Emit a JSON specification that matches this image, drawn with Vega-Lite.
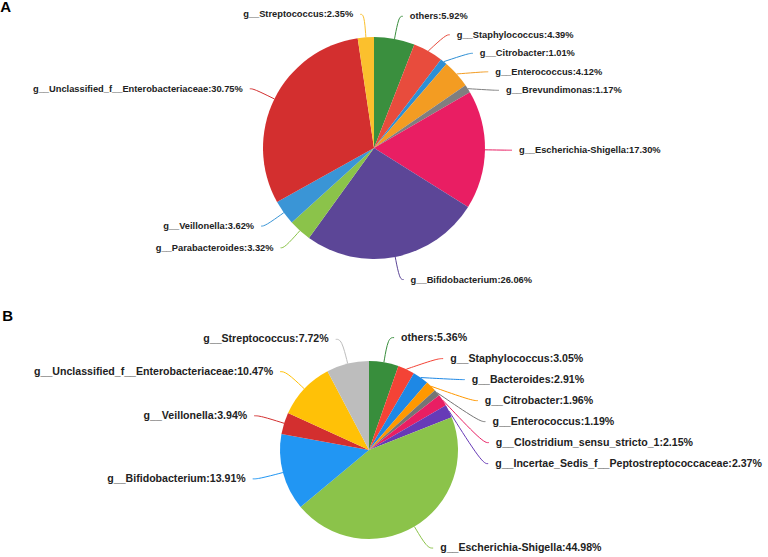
{
  "$schema": "https://vega.github.io/schema/vega-lite/v6.json",
  "padding": 0,
  "background": "white",
  "bounds": "flush",
  "spacing": 9,
  "config": {"view": {"stroke": null}, "font": "Liberation Sans"},
  "resolve": {"scale": {"color": "independent", "x": "independent", "y": "independent", "theta": "independent"}},
  "datasets": {
    "pieA": [
      {"order": 1, "name": "others", "pct": 5.92},
      {"order": 2, "name": "g__Staphylococcus", "pct": 4.39},
      {"order": 3, "name": "g__Citrobacter", "pct": 1.01},
      {"order": 4, "name": "g__Enterococcus", "pct": 4.12},
      {"order": 5, "name": "g__Brevundimonas", "pct": 1.17},
      {"order": 6, "name": "g__Escherichia-Shigella", "pct": 17.30},
      {"order": 7, "name": "g__Bifidobacterium", "pct": 26.06},
      {"order": 8, "name": "g__Parabacteroides", "pct": 3.32},
      {"order": 9, "name": "g__Veillonella", "pct": 3.62},
      {"order": 10, "name": "g__Unclassified_f__Enterobacteriaceae", "pct": 30.75},
      {"order": 11, "name": "g__Streptococcus", "pct": 2.35}
    ],
    "pieB": [
      {"order": 1, "name": "others", "pct": 5.36},
      {"order": 2, "name": "g__Staphylococcus", "pct": 3.05},
      {"order": 3, "name": "g__Bacteroides", "pct": 2.91},
      {"order": 4, "name": "g__Citrobacter", "pct": 1.96},
      {"order": 5, "name": "g__Enterococcus", "pct": 1.19},
      {"order": 6, "name": "g__Clostridium_sensu_stricto_1", "pct": 2.15},
      {"order": 7, "name": "g__Incertae_Sedis_f__Peptostreptococcaceae", "pct": 2.37},
      {"order": 8, "name": "g__Escherichia-Shigella", "pct": 44.98},
      {"order": 9, "name": "g__Bifidobacterium", "pct": 13.91},
      {"order": 10, "name": "g__Veillonella", "pct": 3.94},
      {"order": 11, "name": "g__Unclassified_f__Enterobacteriaceae", "pct": 10.47},
      {"order": 12, "name": "g__Streptococcus", "pct": 7.72}
    ]
  },
  "vconcat": [
    {
      "width": 768,
      "height": 300,
      "title": {"text": "A", "orient": "left", "anchor": "end", "frame": "group", "angle": 0, "align": "left", "baseline": "top", "offset": -3, "fontSize": 15, "fontWeight": "bold", "font": "Liberation Sans", "color": "#000"},
      "data": {"name": "pieA"},
      "transform": [
        {"window": [{"op": "sum", "field": "pct", "as": "cum"}], "sort": [{"field": "order"}], "frame": [null, 0]},
        {"calculate": "(datum.cum - datum.pct / 2) / 100 * 2 * PI", "as": "mid"},
        {"calculate": "111 * sin(datum.mid)", "as": "ex"},
        {"calculate": "-111 * cos(datum.mid)", "as": "ey"},
        {"calculate": "134 * sin(datum.mid)", "as": "ax"},
        {"calculate": "-134 * cos(datum.mid)", "as": "ay"},
        {"calculate": "datum.ax >= 0 ? 'right' : 'left'", "as": "side"},
        {"window": [{"op": "row_number", "as": "k"}], "groupby": ["side"], "sort": [{"field": "ay"}]},
        {"calculate": "datum.ay - datum.k * 18.5", "as": "z"},
        {"window": [{"op": "max", "field": "z", "as": "zmax"}], "groupby": ["side"], "sort": [{"field": "ay"}], "frame": [null, 0]},
        {"calculate": "datum.zmax + datum.k * 18.5", "as": "ly"},
        {"calculate": "(datum.side == 'right' ? 1 : -1) * sqrt(max(0, 134 * 134 - datum.ly * datum.ly))", "as": "lx"},
        {"calculate": "datum.lx + (datum.side == 'right' ? 4 : -4)", "as": "lx2"},
        {"calculate": "datum.name + ':' + format(datum.pct, '.2f') + '%'", "as": "label"}
      ],
      "layer": [
        {
          "mark": {"type": "arc", "outerRadius": 111},
          "encoding": {
            "theta": {"field": "pct", "type": "quantitative", "stack": true},
            "order": {"field": "order", "type": "quantitative"},
            "x": {"datum": 0, "type": "quantitative", "scale": {"domain": [-366, 402]}, "axis": null},
            "y": {"datum": 0, "type": "quantitative", "scale": {"domain": [-148, 152], "reverse": true}, "axis": null},
            "color": {"field": "name", "type": "nominal", "legend": null, "scale": {
              "domain": ["others", "g__Staphylococcus", "g__Citrobacter", "g__Enterococcus", "g__Brevundimonas", "g__Escherichia-Shigella", "g__Bifidobacterium", "g__Parabacteroides", "g__Veillonella", "g__Unclassified_f__Enterobacteriaceae", "g__Streptococcus"],
              "range": ["#3a8f3e", "#e84c3d", "#2d8fd5", "#f39c22", "#7f7f7f", "#e91e63", "#5c4697", "#8bc34a", "#3a95d6", "#d32f2f", "#fbc02d"]}}
          }
        },
        {
          "transform": [
            {"fold": ["ex", "lx", "lx2"], "as": ["pt", "px"]},
            {"calculate": "datum.pt == 'ex' ? datum.ey : datum.ly", "as": "py"},
            {"calculate": "datum.pt == 'ex' ? 0 : (datum.pt == 'lx' ? 1 : 2)", "as": "po"}
          ],
          "mark": {"type": "line", "interpolate": "basis", "strokeWidth": 1},
          "encoding": {
            "x": {"field": "px", "type": "quantitative", "scale": {"domain": [-366, 402]}, "axis": null},
            "y": {"field": "py", "type": "quantitative", "scale": {"domain": [-148, 152], "reverse": true}, "axis": null},
            "detail": {"field": "name"},
            "order": {"field": "po", "type": "quantitative"},
            "color": {"field": "name", "type": "nominal", "legend": null, "scale": {
              "domain": ["others", "g__Staphylococcus", "g__Citrobacter", "g__Enterococcus", "g__Brevundimonas", "g__Escherichia-Shigella", "g__Bifidobacterium", "g__Parabacteroides", "g__Veillonella", "g__Unclassified_f__Enterobacteriaceae", "g__Streptococcus"],
              "range": ["#3a8f3e", "#e84c3d", "#2d8fd5", "#f39c22", "#7f7f7f", "#e91e63", "#5c4697", "#8bc34a", "#3a95d6", "#d32f2f", "#fbc02d"]}}
          }
        },
        {
          "transform": [{"filter": "datum.side == 'right'"}],
          "mark": {"type": "text", "align": "left", "baseline": "middle", "dx": 7, "fontSize": 9.3, "fontWeight": "bold", "font": "Liberation Sans", "fill": "#222"},
          "encoding": {
            "x": {"field": "lx2", "type": "quantitative", "scale": {"domain": [-366, 402]}, "axis": null},
            "y": {"field": "ly", "type": "quantitative", "scale": {"domain": [-148, 152], "reverse": true}, "axis": null},
            "text": {"field": "label"}
          }
        },
        {
          "transform": [{"filter": "datum.side == 'left'"}],
          "mark": {"type": "text", "align": "right", "baseline": "middle", "dx": -7, "fontSize": 9.3, "fontWeight": "bold", "font": "Liberation Sans", "fill": "#222"},
          "encoding": {
            "x": {"field": "lx2", "type": "quantitative", "scale": {"domain": [-366, 402]}, "axis": null},
            "y": {"field": "ly", "type": "quantitative", "scale": {"domain": [-148, 152], "reverse": true}, "axis": null},
            "text": {"field": "label"}
          }
        }
      ]
    },
    {
      "width": 768,
      "height": 248,
      "title": {"text": "B", "orient": "left", "anchor": "end", "frame": "group", "angle": 0, "align": "left", "baseline": "top", "offset": -5, "fontSize": 15, "fontWeight": "bold", "font": "Liberation Sans", "color": "#000"},
      "data": {"name": "pieB"},
      "transform": [
        {"window": [{"op": "sum", "field": "pct", "as": "cum"}], "sort": [{"field": "order"}], "frame": [null, 0]},
        {"calculate": "(datum.cum - datum.pct / 2) / 100 * 2 * PI", "as": "mid"},
        {"calculate": "89 * sin(datum.mid)", "as": "ex"},
        {"calculate": "-89 * cos(datum.mid)", "as": "ey"},
        {"calculate": "114 * sin(datum.mid)", "as": "ax"},
        {"calculate": "-114 * cos(datum.mid)", "as": "ay"},
        {"calculate": "datum.ax >= 0 ? 'right' : 'left'", "as": "side"},
        {"window": [{"op": "row_number", "as": "k"}], "groupby": ["side"], "sort": [{"field": "ay"}]},
        {"calculate": "datum.ay - datum.k * 21", "as": "z"},
        {"window": [{"op": "max", "field": "z", "as": "zmax"}], "groupby": ["side"], "sort": [{"field": "ay"}], "frame": [null, 0]},
        {"calculate": "datum.zmax + datum.k * 21", "as": "ly"},
        {"calculate": "(datum.side == 'right' ? 1 : -1) * sqrt(max(0, 114 * 114 - datum.ly * datum.ly))", "as": "lx"},
        {"calculate": "datum.lx + (datum.side == 'right' ? 6 : -6)", "as": "lx2"},
        {"calculate": "datum.name + ':' + format(datum.pct, '.2f') + '%'", "as": "label"}
      ],
      "layer": [
        {
          "mark": {"type": "arc", "outerRadius": 89},
          "encoding": {
            "theta": {"field": "pct", "type": "quantitative", "stack": true},
            "order": {"field": "order", "type": "quantitative"},
            "x": {"datum": 0, "type": "quantitative", "scale": {"domain": [-361, 407]}, "axis": null},
            "y": {"datum": 0, "type": "quantitative", "scale": {"domain": [-141, 107], "reverse": true}, "axis": null},
            "color": {"field": "name", "type": "nominal", "legend": null, "scale": {
              "domain": ["others", "g__Staphylococcus", "g__Bacteroides", "g__Citrobacter", "g__Enterococcus", "g__Clostridium_sensu_stricto_1", "g__Incertae_Sedis_f__Peptostreptococcaceae", "g__Escherichia-Shigella", "g__Bifidobacterium", "g__Veillonella", "g__Unclassified_f__Enterobacteriaceae", "g__Streptococcus"],
              "range": ["#388e3c", "#f44336", "#1e88e5", "#ff9800", "#757575", "#e91e63", "#673ab7", "#8bc34a", "#2196f3", "#d32f2f", "#ffc107", "#bdbdbd"]}}
          }
        },
        {
          "transform": [
            {"fold": ["ex", "lx", "lx2"], "as": ["pt", "px"]},
            {"calculate": "datum.pt == 'ex' ? datum.ey : datum.ly", "as": "py"},
            {"calculate": "datum.pt == 'ex' ? 0 : (datum.pt == 'lx' ? 1 : 2)", "as": "po"}
          ],
          "mark": {"type": "line", "interpolate": "basis", "strokeWidth": 1},
          "encoding": {
            "x": {"field": "px", "type": "quantitative", "scale": {"domain": [-361, 407]}, "axis": null},
            "y": {"field": "py", "type": "quantitative", "scale": {"domain": [-141, 107], "reverse": true}, "axis": null},
            "detail": {"field": "name"},
            "order": {"field": "po", "type": "quantitative"},
            "color": {"field": "name", "type": "nominal", "legend": null, "scale": {
              "domain": ["others", "g__Staphylococcus", "g__Bacteroides", "g__Citrobacter", "g__Enterococcus", "g__Clostridium_sensu_stricto_1", "g__Incertae_Sedis_f__Peptostreptococcaceae", "g__Escherichia-Shigella", "g__Bifidobacterium", "g__Veillonella", "g__Unclassified_f__Enterobacteriaceae", "g__Streptococcus"],
              "range": ["#388e3c", "#f44336", "#1e88e5", "#ff9800", "#757575", "#e91e63", "#673ab7", "#8bc34a", "#2196f3", "#d32f2f", "#ffc107", "#bdbdbd"]}}
          }
        },
        {
          "transform": [{"filter": "datum.side == 'right'"}],
          "mark": {"type": "text", "align": "left", "baseline": "middle", "dx": 7, "fontSize": 10.6, "fontWeight": "bold", "font": "Liberation Sans", "fill": "#222"},
          "encoding": {
            "x": {"field": "lx2", "type": "quantitative", "scale": {"domain": [-361, 407]}, "axis": null},
            "y": {"field": "ly", "type": "quantitative", "scale": {"domain": [-141, 107], "reverse": true}, "axis": null},
            "text": {"field": "label"}
          }
        },
        {
          "transform": [{"filter": "datum.side == 'left'"}],
          "mark": {"type": "text", "align": "right", "baseline": "middle", "dx": -7, "fontSize": 10.6, "fontWeight": "bold", "font": "Liberation Sans", "fill": "#222"},
          "encoding": {
            "x": {"field": "lx2", "type": "quantitative", "scale": {"domain": [-361, 407]}, "axis": null},
            "y": {"field": "ly", "type": "quantitative", "scale": {"domain": [-141, 107], "reverse": true}, "axis": null},
            "text": {"field": "label"}
          }
        }
      ]
    }
  ]
}
